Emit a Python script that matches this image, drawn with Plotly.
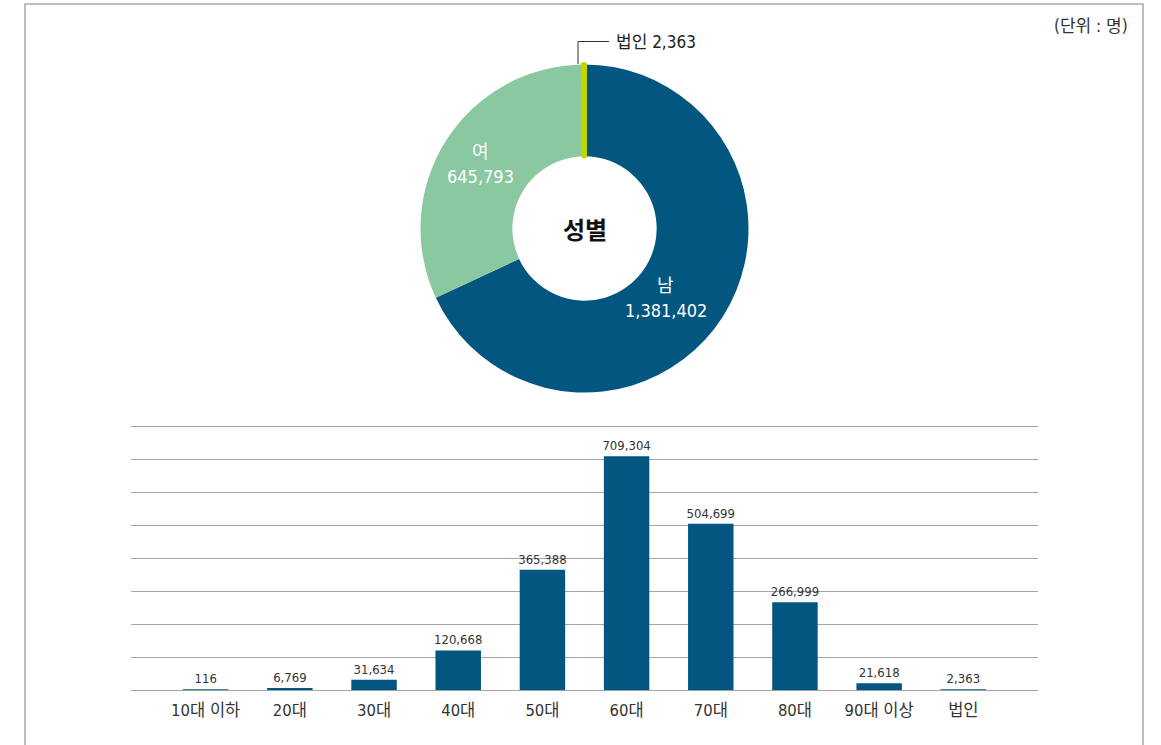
import plotly.graph_objects as go

W, H = 1161, 745

# ---- data ----
gender_labels = ["남", "여", "법인"]
gender_values = [1381402, 645793, 2363]
gender_colors = ["#02567f", "#89c8a0", "#c4d600"]

age_labels = ["10대 이하", "20대", "30대", "40대", "50대", "60대", "70대", "80대", "90대 이상", "법인"]
age_values = [116, 6769, 31634, 120668, 365388, 709304, 504699, 266999, 21618, 2363]

unit_text = "(단위 : 명)"
center_text = "성별"

FONT = "DejaVu Sans Condensed, Noto Sans CJK KR, sans-serif"


def px(x):
    return x / W


def py(y):
    return 1 - y / H


fig = go.Figure()

# donut
cx, cy, r = 584.5, 228.5, 164
fig.add_trace(go.Pie(
    labels=gender_labels,
    values=gender_values,
    marker=dict(colors=gender_colors,
                line=dict(color=gender_colors, width=[0, 0, 5])),
    hole=0.44,
    sort=False,
    direction="clockwise",
    rotation=0,
    textinfo="none",
    domain=dict(x=[px(cx - r), px(cx + r)], y=[py(cy + r), py(cy - r)]),
    showlegend=False,
    hoverinfo="label+value",
))

# bars
fig.add_trace(go.Bar(
    x=age_labels,
    y=age_values,
    marker=dict(color="#02567f", line=dict(width=0)),
    width=0.54,
    texttemplate="%{y:,}",
    textposition="outside",
    constraintext="none",
    textfont=dict(size=13, color="#333333", family=FONT),
    cliponaxis=False,
    showlegend=False,
))

YMAX = 800000
fig.update_layout(
    width=W, height=H,
    margin=dict(l=0, r=0, t=0, b=0, autoexpand=False),
    paper_bgcolor="white",
    plot_bgcolor="white",
    font=dict(family=FONT, color="#333333"),
    xaxis=dict(
        domain=[px(131), px(1038)],
        range=[-0.887, 9.887],
        showgrid=False, showline=False, ticks="",
        tickfont=dict(size=16.5, color="#333333", family=FONT),
        ticklabelstandoff=8,
        automargin=False,
        fixedrange=True,
    ),
    yaxis=dict(
        domain=[py(690.3), py(425.3)],
        range=[0, YMAX * 1.004],
        tickvals=list(range(0, YMAX + 1, 100000)),
        showticklabels=False,
        gridcolor="#a6a6a6", gridwidth=1,
        zeroline=True, zerolinecolor="#a6a6a6", zerolinewidth=1,
        showline=False,
        automargin=False,
        fixedrange=True,
    ),
)

# frame border (left, top, right)
fig.add_shape(type="path", xref="paper", yref="paper",
              path=f"M {px(25)} {py(760)} L {px(25)} {py(4)} L {px(1143)} {py(4)} L {px(1143)} {py(760)}",
              line=dict(color="#bdbdbd", width=2))

# leader line for the small slice
fig.add_shape(type="path", xref="paper", yref="paper",
              path=f"M {px(578)} {py(64)} L {px(578)} {py(41.5)} L {px(609)} {py(41.5)}",
              line=dict(color="#333333", width=1))

fig.add_annotation(x=px(614), y=py(42), xref="paper", yref="paper",
                   text=f"{gender_labels[2]} {gender_values[2]:,}",
                   showarrow=False, xanchor="left", yanchor="middle",
                   font=dict(size=17, color="#222222", family=FONT))

# inside labels for the two large slices
label_pos = {0: (665.5, 285, 310), 1: (480, 151, 177)}
for i, (lx, ly1, ly2) in label_pos.items():
    fig.add_annotation(x=px(lx), y=py(ly1), xref="paper", yref="paper",
                       text=gender_labels[i], showarrow=False,
                       xanchor="center", yanchor="middle",
                       font=dict(size=18, color="white", family=FONT))
    fig.add_annotation(x=px(lx), y=py(ly2), xref="paper", yref="paper",
                       text=f"{gender_values[i]:,}", showarrow=False,
                       xanchor="center", yanchor="middle",
                       font=dict(size=18, color="white", family=FONT))

fig.add_annotation(x=px(cx), y=py(cy), xref="paper", yref="paper",
                   text=f"<b>{center_text}</b>", showarrow=False,
                   xanchor="center", yanchor="middle",
                   font=dict(size=24, color="#111111", family="Noto Sans CJK KR"))

fig.add_annotation(x=px(1130), y=py(26), xref="paper", yref="paper",
                   text=unit_text, showarrow=False,
                   xanchor="right", yanchor="middle",
                   font=dict(size=17, color="#333333", family=FONT))

fig.write_html("out.html", config={"displayModeBar": False},
               post_script="document.body.style.margin='0px';")
